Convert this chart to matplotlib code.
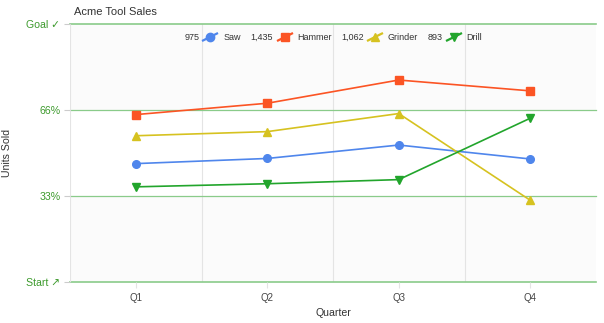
import matplotlib
matplotlib.use("Agg")
import matplotlib.pyplot as plt
from matplotlib.lines import Line2D

quarters = ["Q1", "Q2", "Q3", "Q4"]
series_names = ["Saw", "Hammer", "Grinder", "Drill"]
saw = [230, 240, 266, 239]
hammer = [325, 347, 392, 371]
grinder = [284, 292, 327, 159]
drill = [185, 191, 199, 318]
totals = ["975", "1,435", "1,062", "893"]
ytick_vals = [0, 500 / 3, 1000 / 3, 500]
ytick_labels = ["Start \u2197", "33%", "66%", "Goal \u2713"]

colors = ["#4f86ec", "#fb5424", "#d6c220", "#22a52c"]
markers = ["o", "s", "^", "v"]
data = [saw, hammer, grinder, drill]

plt.rcParams["font.family"] = ["Liberation Sans", "DejaVu Sans"]
fig = plt.figure(figsize=(6.04, 3.23), dpi=100)
ax = fig.add_axes([70 / 604, 1 - 282.3 / 323, (596 - 70) / 604, (282.3 - 24.3) / 323])

ax.set_xlim(-0.5, 3.5)
ax.set_ylim(0, 500)

# alternating bands
ax.axhspan(0, 500 / 3, color="#fbfbfb", zorder=0, lw=0)
ax.axhspan(1000 / 3, 500, color="#fbfbfb", zorder=0, lw=0)

# vertical gridlines between categories
for b in [0.5, 1.5, 2.5]:
    ax.axvline(b, color="#e4e4e4", lw=0.8, zorder=1)
# horizontal green gridlines
for v in ytick_vals:
    ax.axhline(v, color="#8acb8a", lw=1.2 if v in (0, 500) else 0.9, zorder=1, clip_on=False)

x = list(range(len(quarters)))
for vals, c, m in zip(data, colors, markers):
    ax.plot(x, vals, color=c, lw=1.2, marker=m, ms=5.5, zorder=3, clip_on=False)

for s in ax.spines.values():
    s.set_visible(False)
ax.axvline(-0.5, color="#e4e4e4", lw=0.8, zorder=1)

ax.set_xticks(x)
ax.set_xticklabels(quarters, fontsize=7, color="#444444")
ax.set_yticks(ytick_vals)
ax.set_yticklabels(ytick_labels, fontsize=7.6, color="#3c9a2c")
ax.tick_params(axis="y", length=4, color="#cccccc", pad=3)
ax.tick_params(axis="x", length=4, color="#e4e4e4", pad=4)
ax.set_xlabel("Quarter", fontsize=7.6, color="#333333", labelpad=3)
ax.set_ylabel("Units Sold", fontsize=7.6, color="#333333")
ax.yaxis.set_label_coords((12 - 70) / 526, 0.5)

fig.text(74 / 604, 1 - 12 / 323, "Acme Tool Sales", fontsize=8, color="#333333", va="center", ha="left")

# legend row
leg_y = 1 - 37 / 323
num_right = [200, 273, 364, 443]
marker_x = [210, 285, 375, 454]
name_left = [224, 297, 388, 466]
for t, nr, mx, nl, c, m, name in zip(totals, num_right, marker_x, name_left, colors, markers, series_names):
    fig.text(nr / 604, leg_y, t, fontsize=6.5, color="#333333", ha="right", va="center")
    fig.add_artist(Line2D([(mx - 7) / 604, (mx + 7) / 604], [leg_y - 3.5 / 323, leg_y + 3.5 / 323],
                          color=c, lw=1.6, transform=fig.transFigure))
    fig.add_artist(Line2D([mx / 604], [leg_y], color=c, marker=m, ms=6, transform=fig.transFigure))
    fig.text(nl / 604, leg_y, name, fontsize=6.5, color="#333333", ha="left", va="center")

fig.savefig("out.png", dpi=100)
